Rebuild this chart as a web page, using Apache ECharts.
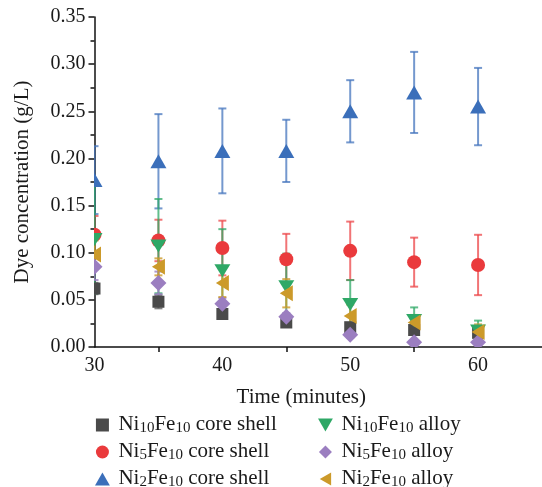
<!DOCTYPE html>
<html>
<head>
<meta charset="utf-8">
<script src="https://cdn.jsdelivr.net/npm/echarts@6/dist/echarts.min.js"></script>
<style>html,body{margin:0;padding:0;background:#fff}#c{width:542px;height:487px}</style>
</head>
<body>
<div id="c"></div>
<script>
// ---- data ----
const times = [30, 35, 40, 45, 50, 55, 60];
const xTickLabels = [30, 40, 50, 60];
const xMinorTicks = [35, 45, 55];

const cs10Mean = [0.062, 0.048, 0.035, 0.026, 0.021, 0.018, 0.015];
const cs10Err  = [0.006, 0.007, 0.004, 0.004, 0.004, 0.004, 0.004];
const cs5Mean  = [0.119, 0.113, 0.105, 0.093, 0.102, 0.090, 0.087];
const cs5Err   = [0.020, 0.022, 0.029, 0.027, 0.031, 0.026, 0.032];
const cs2Mean  = [0.177, 0.197, 0.208, 0.208, 0.250, 0.270, 0.255];
const cs2Err   = [0.036, 0.050, 0.045, 0.033, 0.033, 0.043, 0.041];
const al10Mean = [0.114, 0.107, 0.081, 0.064, 0.045, 0.028, 0.017];
const al10Err  = [0.057, 0.050, 0.044, 0.035, 0.026, 0.014, 0.011];
const al5Mean  = [0.085, 0.068, 0.046, 0.032, 0.013, 0.005, 0.005];
const al5Err   = [0.014, 0.012, 0.006, 0.004, 0.003, 0.002, 0.002];
const al2Mean  = [0.098, 0.085, 0.068, 0.057, 0.033, 0.026, 0.016];
const al2Err   = [0.015, 0.009, 0.015, 0.015, 0.012, 0.008, 0.008];

const seriesNames = [
  'Ni10Fe10 core shell', 'Ni5Fe10 core shell', 'Ni2Fe10 core shell',
  'Ni10Fe10 alloy', 'Ni5Fe10 alloy', 'Ni2Fe10 alloy'
];

// ---- styles ----
const FONT = 'Liberation Serif';
const groups = [
  {name: seriesNames[0], mean: cs10Mean, err: cs10Err, shape: 'square',  color: '#4a4a4a', ebar: 'rgba(90,90,90,0.75)',   icon: 'path://M0,0 L1,0 L1,1 L0,1 Z'},
  {name: seriesNames[1], mean: cs5Mean,  err: cs5Err,  shape: 'circle',  color: '#ea3a3c', ebar: 'rgba(236,70,72,0.75)',  icon: 'circle'},
  {name: seriesNames[2], mean: cs2Mean,  err: cs2Err,  shape: 'up',      color: '#3b6fba', ebar: 'rgba(70,118,190,0.75)', icon: 'path://M1,0 L2,1.75 L0,1.75 Z'},
  {name: seriesNames[3], mean: al10Mean, err: al10Err, shape: 'down',    color: '#2ea866', ebar: 'rgba(46,168,102,0.75)', icon: 'path://M0,0 L2,0 L1,1.75 Z'},
  {name: seriesNames[4], mean: al5Mean,  err: al5Err,  shape: 'diamond', color: '#9b7ec0', ebar: 'rgba(155,126,192,0.8)', icon: 'path://M1,0 L2,1 L1,2 L0,1 Z'},
  {name: seriesNames[5], mean: al2Mean,  err: al2Err,  shape: 'left',    color: '#cc9a2a', ebar: 'rgba(204,154,42,0.8)',  icon: 'path://M1.75,0 L1.75,2 L0,1 Z'}
];

function toData(g) { return times.map((t, i) => [t, g.mean[i], g.err[i]]); }

function errRender(color) {
  return function (params, api) {
    const x = api.value(0), y = api.value(1), e = api.value(2);
    const t = api.coord([x, y + e]);
    const b = api.coord([x, y - e]);
    const st = {stroke: color, lineWidth: 2};
    return {
      type: 'group',
      children: [
        {type: 'line', shape: {x1: t[0], y1: t[1], x2: b[0], y2: b[1]}, style: st},
        {type: 'line', shape: {x1: t[0] - 4, y1: t[1], x2: t[0] + 4, y2: t[1]}, style: st},
        {type: 'line', shape: {x1: b[0] - 4, y1: b[1], x2: b[0] + 4, y2: b[1]}, style: st}
      ]
    };
  };
}

function markerRender(shape, color) {
  return function (params, api) {
    const p = api.coord([api.value(0), api.value(1)]);
    const x = p[0], y = p[1];
    const style = {fill: color};
    switch (shape) {
      case 'square': return {type: 'rect', shape: {x: x - 6, y: y - 6, width: 12, height: 12}, style};
      case 'circle': return {type: 'circle', shape: {cx: x, cy: y, r: 7}, style};
      case 'up': return {type: 'polygon', shape: {points: [[x, y - 7], [x + 8, y + 7], [x - 8, y + 7]]}, style};
      case 'down': return {type: 'polygon', shape: {points: [[x - 8, y - 6.5], [x + 8, y - 6.5], [x, y + 6.5]]}, style};
      case 'diamond': return {type: 'polygon', shape: {points: [[x, y - 8], [x + 8, y], [x, y + 8], [x - 8, y]]}, style};
      case 'left': return {type: 'polygon', shape: {points: [[x - 6.5, y], [x + 6.5, y - 8], [x + 6.5, y + 8]]}, style};
    }
  };
}

const series = [];
groups.forEach(g => {
  series.push({
    type: 'custom', name: g.name + ' err', clip: true, z: 2,
    renderItem: errRender(g.ebar), data: toData(g), silent: true
  });
});
groups.forEach(g => {
  series.push({
    type: 'custom', name: g.name, clip: true, z: 3,
    itemStyle: {color: g.color},
    renderItem: markerRender(g.shape, g.color), data: toData(g)
  });
});

const legendText = {
  fontFamily: FONT, fontSize: 21, color: '#1a1a1a', lineHeight: 22,
  rich: {
    n: {fontFamily: FONT, fontSize: 21, color: '#1a1a1a', lineHeight: 22, verticalAlign: 'top'},
    s: {fontFamily: FONT, fontSize: 15, color: '#1a1a1a', lineHeight: 4, verticalAlign: 'bottom'}
  }
};
const legendFmt = n => n.split(/(\d+)/).filter(p => p.length).map(p => /^\d+$/.test(p) ? '{s|' + p + '}' : '{n|' + p + '}').join('');

const chart = echarts.init(document.getElementById('c'), null, {renderer: 'canvas'});
chart.setOption({
  animation: false,
  backgroundColor: '#fff',
  grid: {left: 94.5, right: 0, top: 17, bottom: 140, containLabel: false},
  xAxis: {
    type: 'value', min: 30, max: 65,
    name: 'Time (minutes)', nameLocation: 'middle', nameGap: 40,
    nameTextStyle: {fontFamily: FONT, fontSize: 21, color: '#1a1a1a', padding: [0, 34, 0, 0]},
    axisLine: {lineStyle: {color: '#111', width: 1.5}},
    axisTick: {show: true, length: 5, customValues: xMinorTicks, lineStyle: {color: '#111', width: 1.5}},
    axisLabel: {customValues: xTickLabels, margin: 9, fontFamily: FONT, fontSize: 20, color: '#1a1a1a'},
    splitLine: {show: false}
  },
  yAxis: {
    type: 'value', min: 0, max: 0.35, interval: 0.05,
    name: 'Dye concentration (g/L)', nameLocation: 'middle', nameGap: 62,
    nameTextStyle: {fontFamily: FONT, fontSize: 21, color: '#1a1a1a'},
    axisLine: {show: true, lineStyle: {color: '#111', width: 1.5}},
    axisTick: {show: true, length: 6, lineStyle: {color: '#111', width: 1.5}},
    minorTick: {show: true, splitNumber: 2, length: 4, lineStyle: {color: '#111', width: 1.5}},
    axisLabel: {margin: 9, fontFamily: FONT, fontSize: 20, color: '#1a1a1a', formatter: v => v.toFixed(2)},
    splitLine: {show: false}
  },
  legend: [
    {
      orient: 'vertical', left: 95, top: 414, height: 120, padding: 0, itemGap: 5, itemWidth: 22, itemHeight: 13,
      data: groups.slice(0, 3).map(g => ({name: g.name, icon: g.icon})),
      formatter: legendFmt, textStyle: legendText
    },
    {
      orient: 'vertical', left: 318, top: 414, height: 120, padding: 0, itemGap: 5, itemWidth: 22, itemHeight: 13,
      data: groups.slice(3).map(g => ({name: g.name, icon: g.icon})),
      formatter: legendFmt, textStyle: legendText
    }
  ],
  series: series
});
</script>
</body>
</html>
